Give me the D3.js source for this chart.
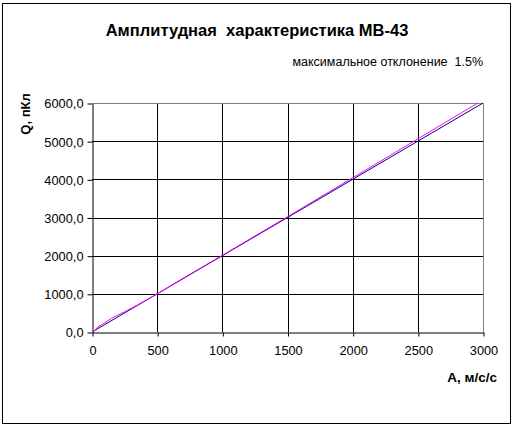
<!DOCTYPE html>
<html><head><meta charset="utf-8">
<script src="https://cdn.jsdelivr.net/npm/d3@7"></script>
<style>body{margin:0;background:#fff}svg{display:block}text{font-family:"Liberation Sans",Arial,sans-serif;white-space:pre}</style>
</head><body><svg id="c" width="514" height="428"></svg>
<script>
const title = "Амплитудная  характеристика МВ-43";
const subtitle = "максимальное отклонение  1.5%";
const xTitle = "А, м/с/с";
const yTitle = "Q, пКл";
const xTicks = [0, 500, 1000, 1500, 2000, 2500, 3000];
const yTicks = [0, 1000, 2000, 3000, 4000, 5000, 6000];
// ideal line
const idealA = [0, 3000];
const idealQ = [0, 6000];
// measured line
const measA = [0, 20, 40, 80, 150, 250, 350, 500, 700, 1000, 1500, 2000, 2500, 2960];
const measQ = [0, 40, 120, 200, 360, 530, 710, 1000, 1410, 2010, 3020, 4040, 5060, 6000];

const svg = d3.select("#c");
const L = 92, R = 483, T = 103, B = 332;
const x = d3.scaleLinear().domain([0, 3000]).range([L, R]);
const y = d3.scaleLinear().domain([0, 6000]).range([B, T]);

svg.append("rect").attr("x", 2.5).attr("y", 3.5).attr("width", 508).attr("height", 420)
  .attr("fill", "#fff").attr("stroke", "#000").attr("stroke-width", 1);

// grid
svg.append("g").selectAll("line").data(xTicks.slice(1, -1)).join("line")
  .attr("x1", d => Math.round(x(d)) + 0.5).attr("x2", d => Math.round(x(d)) + 0.5)
  .attr("y1", T).attr("y2", B).attr("stroke", "#000");
svg.append("g").selectAll("line").data(yTicks.slice(1, -1)).join("line")
  .attr("y1", d => Math.round(y(d)) + 0.5).attr("y2", d => Math.round(y(d)) + 0.5)
  .attr("x1", L).attr("x2", R).attr("stroke", "#000");
// top/right border gray
svg.append("path").attr("d", `M${L},${T + 0.5}H${R + 0.5}V${B}`).attr("fill", "none").attr("stroke", "#808080");

// axes
const xa = svg.append("g").attr("transform", `translate(0.5,${B + 0.5})`)
  .call(d3.axisBottom(x).tickValues(xTicks).tickSize(4).tickSizeOuter(0).tickFormat(d3.format("d")));
const ya = svg.append("g").attr("transform", `translate(${L + 0.5},0.5)`)
  .call(d3.axisLeft(y).tickValues(yTicks).tickSize(5).tickSizeOuter(0).tickFormat(d => d3.format(".1f")(d).replace(".", ",")));
[xa, ya].forEach(g => {
  g.select(".domain").attr("stroke", "#000");
  g.selectAll(".tick line").attr("stroke", "#000");
  g.selectAll("text").attr("fill", "#000").style("font-size", "12.8px").style("font-family", "Liberation Sans, Arial, sans-serif");
});
xa.selectAll("text").attr("dy", "0").attr("y", 22);
ya.selectAll("text").attr("x", -9).attr("dy", "0.35em");

const line = d3.line().x(d => x(d[0])).y(d => y(d[1]));
svg.append("path").datum(idealA.map((a, i) => [a, idealQ[i]])).attr("d", line)
  .attr("fill", "none").attr("stroke", "#000080").attr("stroke-width", 1);
svg.append("path").datum(measA.map((a, i) => [a, measQ[i]])).attr("d", line)
  .attr("fill", "none").attr("stroke", "#ff00ff").attr("stroke-width", 1);

svg.append("text").attr("x", 257).attr("y", 36).attr("text-anchor", "middle")
  .style("font-size", "16.5px").style("font-weight", "bold").text(title);
svg.append("text").attr("x", 483).attr("y", 66).attr("text-anchor", "end")
  .style("font-size", "12.5px").text(subtitle);
svg.append("text").attr("x", 497).attr("y", 382).attr("text-anchor", "end")
  .style("font-size", "13.5px").style("font-weight", "bold").text(xTitle);
svg.append("text").attr("transform", "translate(30,114) rotate(-90)").attr("text-anchor", "middle")
  .style("font-size", "13px").style("font-weight", "bold").text(yTitle);
</script></body></html>
